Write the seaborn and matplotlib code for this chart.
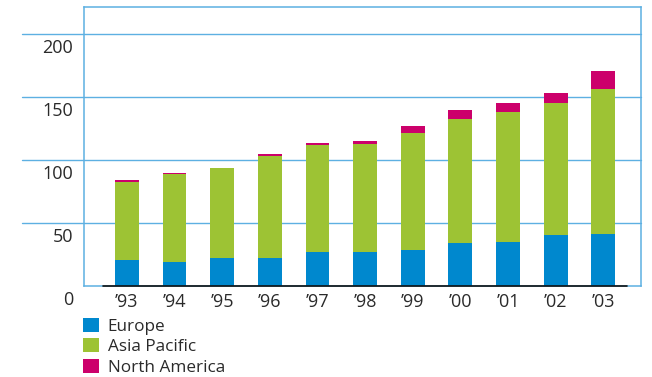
import matplotlib
matplotlib.use("Agg")
import matplotlib.pyplot as plt
import matplotlib.transforms as mtransforms
from matplotlib.patches import Patch
import numpy as np
import pandas as pd
import seaborn as sns

# Data ---------------------------------------------------------------
years = ["’93", "’94", "’95", "’96", "’97", "’98", "’99", "’00", "’01", "’02", "’03"]
europe = [20.5, 19.4, 22.1, 22.1, 26.6, 26.6, 28.2, 34.0, 34.8, 40.3, 41.1]
asia_pacific = [62.4, 69.3, 71.9, 80.7, 84.9, 85.7, 93.6, 98.9, 102.9, 105.3, 114.9]
north_america = [1.6, 0.8, 0.0, 1.6, 1.6, 2.4, 4.8, 6.4, 7.9, 7.2, 15.0]
series_names = ["Europe", "Asia Pacific", "North America"]
y_ticks = [0, 50, 100, 150, 200]

# Styling ------------------------------------------------------------
colors = ["#0088CE", "#9DC334", "#CC006B"]
frame_blue = "#5DB0E2"
text_color = "#2A2A2A"

sns.set_theme(style="white")
plt.rcParams["font.family"] = ["Open Sans", "DejaVu Sans"]

df = pd.DataFrame({
    "year": years,
    "Europe": europe,
    "Asia Pacific": asia_pacific,
    "North America": north_america,
})

fig = plt.figure(figsize=(6.52, 3.77), dpi=100)
W, H = 652, 377
left, right, top, bottom = 83.5, 641, 7, 286
ax = fig.add_axes([left / W, 1 - bottom / H, (right - left) / W, (bottom - top) / H])

base = np.zeros(len(years))
for name, color in zip(series_names, colors):
    sns.barplot(data=df, x="year", y=name, order=years, color=color,
                saturation=1, width=0.5, linewidth=0, bottom=base, ax=ax,
                zorder=3)
    base = base + df[name].to_numpy()

# Axis ranges so the baseline runs under the bars only
ax.set_xlim(-0.91, 10.79)
ax.set_ylim(0, 221.4)

for sp in ax.spines.values():
    sp.set_color(frame_blue)
    sp.set_linewidth(1.1)

# Horizontal gridlines that extend into the left margin
ytr = ax.get_yaxis_transform()
for v in y_ticks[1:]:
    ax.plot([-0.11, 1.0], [v, v], transform=ytr, color=frame_blue,
            lw=1.0, clip_on=False, zorder=1)

# Black baseline under the bars
ax.plot([-0.5, 10.5], [0, 0], color="#111111", lw=1.2, zorder=4, clip_on=False)

# Y labels sit just below their gridlines
ax.set_yticks([])
label_tr = mtransforms.offset_copy(ytr, fig=fig, x=0, y=-14, units="dots")
for v in y_ticks:
    ax.text(-0.019, v, f"{v}", transform=label_tr, ha="right", va="center",
            fontsize=13, color=text_color)

ax.set_xticks(range(len(years)))
ax.set_xticklabels(years, fontsize=13, color=text_color)
ax.tick_params(axis="x", length=0, pad=5)
ax.set_xlabel("")
ax.set_ylabel("")

handles = [Patch(facecolor=c, edgecolor="none") for c in colors]
fig.legend(handles, series_names, loc="upper left",
           bbox_to_anchor=(71 / W, 1 - 306 / H), frameon=False,
           fontsize=12.3, handlelength=0.95, handleheight=0.85,
           handletextpad=0.5, labelspacing=0.22, borderpad=0.2,
           labelcolor=text_color)

fig.savefig("out.png", dpi=100)
